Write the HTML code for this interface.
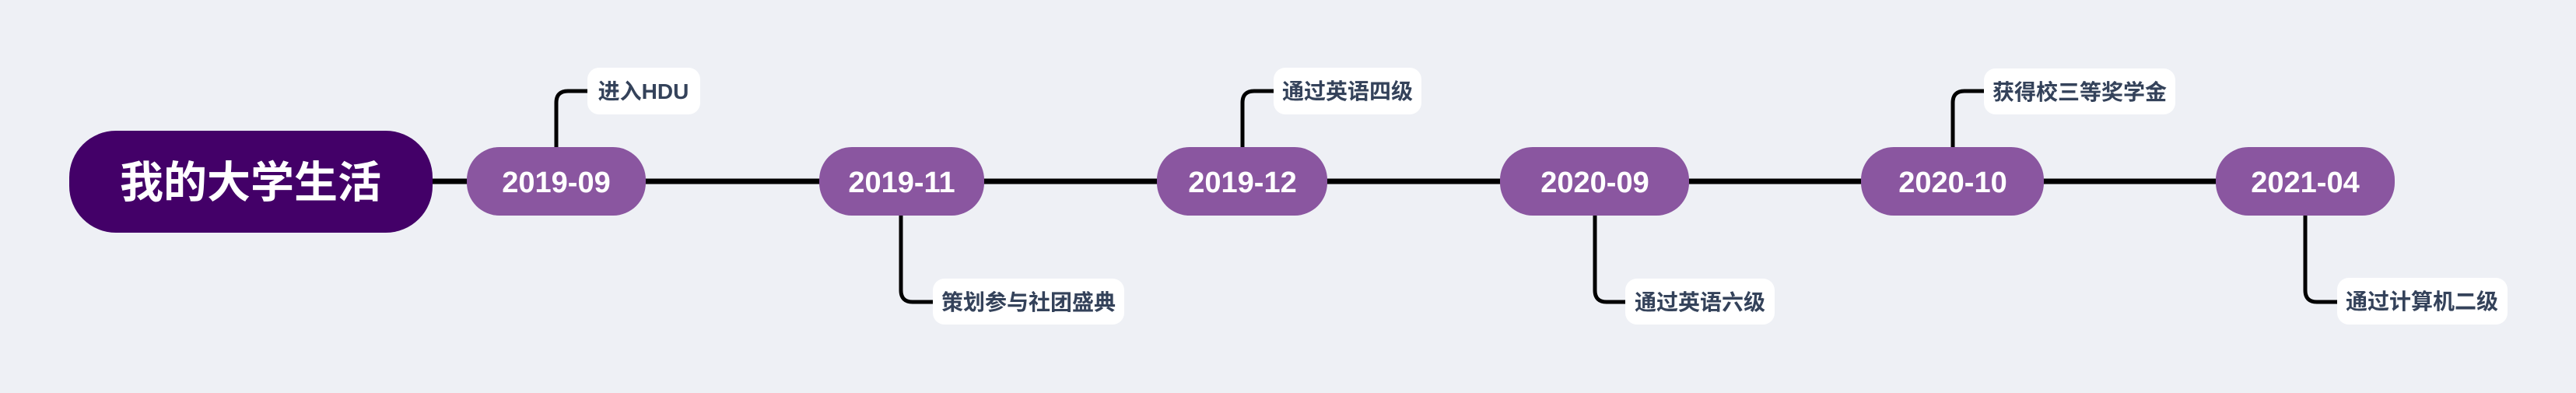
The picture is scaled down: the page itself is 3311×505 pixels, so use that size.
<!DOCTYPE html>
<html><head><meta charset="utf-8"><style>
html,body{margin:0;padding:0;background:#eef0f5;}
svg{display:block}
.d{font-family:"Liberation Sans","Noto Sans CJK SC",sans-serif;font-weight:bold;fill:#fff;font-size:38px}
.l{font-family:"Liberation Sans","Noto Sans CJK SC",sans-serif;font-weight:bold;fill:#34425a;font-size:28px}
</style></head><body>
<svg width="3311" height="505" viewBox="0 0 3311 505" xmlns="http://www.w3.org/2000/svg">
<rect width="3311" height="505" fill="#eef0f5"/>
<line x1="550" y1="233" x2="2860" y2="233" stroke="#000" stroke-width="7"/>
<g fill="none" stroke="#000" stroke-width="5">
<path d="M715 190 V132 Q715 117 730 117 H756"/>
<path d="M1158 276 V373 Q1158 388 1173 388 H1200"/>
<path d="M1597 190 V132 Q1597 117 1612 117 H1638"/>
<path d="M2050 276 V373 Q2050 388 2065 388 H2090"/>
<path d="M2510 190 V132 Q2510 117 2525 117 H2551"/>
<path d="M2963 276 V373 Q2963 388 2978 388 H3005"/>
</g>
<rect x="89" y="168" width="467" height="131" rx="60" fill="#430068"/>
<text x="322" y="254" text-anchor="middle" font-family="'Liberation Sans','Noto Sans CJK SC',sans-serif" font-weight="bold" font-size="56" fill="#fff">我的大学生活</text>
<g fill="#8a56a0">
<rect x="600" y="189" width="230" height="88" rx="42"/>
<rect x="1053" y="189" width="212" height="88" rx="42"/>
<rect x="1487" y="189" width="219" height="88" rx="42"/>
<rect x="1928" y="189" width="243" height="88" rx="42"/>
<rect x="2392" y="189" width="235" height="88" rx="42"/>
<rect x="2848" y="189" width="230" height="88" rx="42"/>
</g>
<g text-anchor="middle">
<text class="d" x="715" y="247">2019-09</text>
<text class="d" x="1159" y="247">2019-11</text>
<text class="d" x="1597" y="247">2019-12</text>
<text class="d" x="2050" y="247">2020-09</text>
<text class="d" x="2510" y="247">2020-10</text>
<text class="d" x="2963" y="247">2021-04</text>
</g>
<g fill="#fff">
<rect x="755" y="87" width="145" height="60" rx="15"/>
<rect x="1199" y="358" width="246" height="59" rx="15"/>
<rect x="1637" y="87" width="190" height="60" rx="15"/>
<rect x="2089" y="358" width="192" height="59" rx="15"/>
<rect x="2550" y="88" width="246" height="59" rx="15"/>
<rect x="3004" y="357" width="219" height="60" rx="15"/>
</g>
<g text-anchor="middle">
<text class="l" x="827" y="127">进入HDU</text>
<text class="l" x="1322" y="398">策划参与社团盛典</text>
<text class="l" x="1732" y="127">通过英语四级</text>
<text class="l" x="2185" y="398">通过英语六级</text>
<text class="l" x="2673" y="128">获得校三等奖学金</text>
<text class="l" x="3113" y="397">通过计算机二级</text>
</g>
</svg>
</body></html>
